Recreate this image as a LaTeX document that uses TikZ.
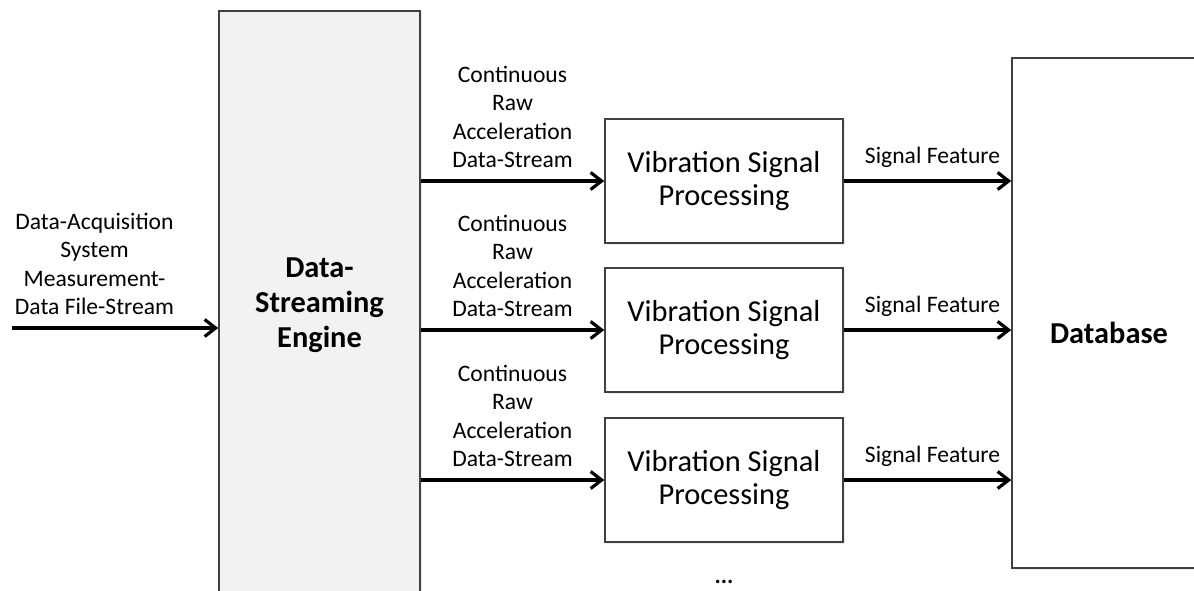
\documentclass[tikz,border=0pt]{standalone}
\usepackage{fontspec}
\setmainfont{Carlito}
\usetikzlibrary{arrows.meta,positioning,shadows}

\begin{document}
\begin{tikzpicture}[x=0.5pt,y=-0.5pt,
  box/.style={draw=black!75,line width=0.75pt,
    drop shadow={shadow xshift=1.2pt,shadow yshift=-1.2pt,opacity=0.15}},
  vsp/.style={box,fill=white,minimum width=119pt,minimum height=62pt,align=center,
    font=\fontsize{15.2}{16.5}\selectfont},
  big/.style={align=center,font=\fontsize{15.2}{17.5}\selectfont\bfseries},
  lbl/.style={align=center,inner sep=2pt,font=\fontsize{11.8}{14.1}\selectfont},
  arr/.style={-{Straight Barb[length=5.5pt,width=8.5pt]},line width=1.6pt}]
\useasboundingbox (0,0) rectangle (1194,590);
\clip (0,0) rectangle (1194,590);
% engine and database
\node [box,big,fill=black!5,minimum width=100.5pt,minimum height=294pt] (e) at (319.5,305) {Data-\\Streaming\\Engine};
\node [box,fill=white,minimum width=97pt,minimum height=255pt] (d) at (1109,313) {};
\node [big] (dt) at (1109,333) {Database};
% processing blocks
\node [vsp] (p1) at (724,181) {Vibration Signal\\Processing};
\node [vsp] (p2) at (724,330) {Vibration Signal\\Processing};
\node [vsp] (p3) at (724,480) {Vibration Signal\\Processing};
\node [lbl,font=\fontsize{11.8}{14.1}\selectfont\bfseries,below=16.5pt of p3] (m) {...};
% input
\coordinate (s) at (12,328);
\draw [arr] (s) -- (s -| e.west)
  node [lbl,pos=0.4,above=4pt] {Data-Acquisition\\System\\Measurement-\\Data File-Stream};
% streams
\draw [arr] (e.east |- p1) -- (p1)
  node [lbl,midway,above=4pt] {Continuous\\Raw\\Acceleration\\Data-Stream};
\draw [arr] (e.east |- p2) -- (p2)
  node [lbl,midway,above=4pt] {Continuous\\Raw\\Acceleration\\Data-Stream};
\draw [arr] (e.east |- p3) -- (p3)
  node [lbl,midway,above=4pt] {Continuous\\Raw\\Acceleration\\Data-Stream};
% features
\draw [arr] (p1) -- (p1 -| d.west) node [lbl,pos=0.53,above=4pt] {Signal Feature};
\draw [arr] (p2) -- (p2 -| d.west) node [lbl,pos=0.53,above=4pt] {Signal Feature};
\draw [arr] (p3) -- (p3 -| d.west) node [lbl,pos=0.53,above=4pt] {Signal Feature};
\end{tikzpicture}
\end{document}
